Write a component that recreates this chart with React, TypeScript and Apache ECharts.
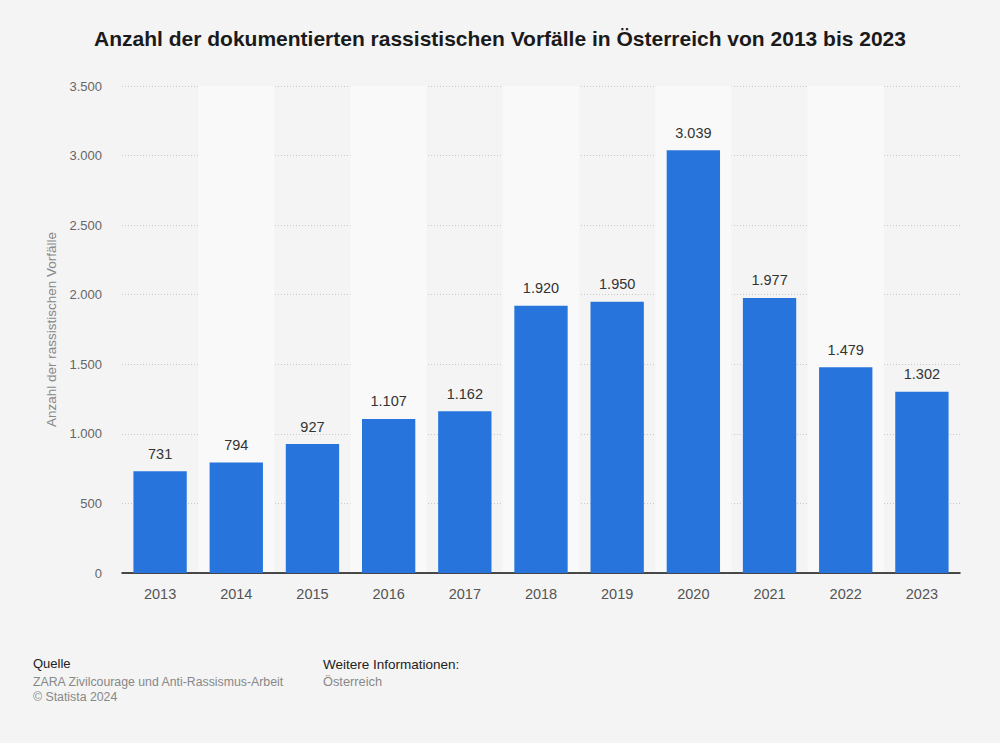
import React, { useEffect, useRef } from "react";
import * as echarts from "echarts";

const years = ["2013", "2014", "2015", "2016", "2017", "2018", "2019", "2020", "2021", "2022", "2023"];
const incidents = [731, 794, 927, 1107, 1162, 1920, 1950, 3039, 1977, 1479, 1302];
const yTicks = [0, 500, 1000, 1500, 2000, 2500, 3000, 3500];

const fmt = (v: number) => String(v).replace(/\B(?=(\d{3})+(?!\d))/g, ".");
const FONT = "'Liberation Sans', Arial, Helvetica, sans-serif";

export default function App() {
  const ref = useRef<HTMLDivElement>(null);
  useEffect(() => {
    document.body.style.margin = "0";
    document.body.style.background = "#f4f4f4";
    const chart = echarts.init(ref.current!, undefined, { renderer: "svg" });
    chart.setOption({
      animation: false,
      backgroundColor: "#f4f4f4",
      textStyle: { fontFamily: FONT },
      title: {
        text: "Anzahl der dokumentierten rassistischen Vorfälle in Österreich von 2013 bis 2023",
        left: "center",
        top: 23,
        textStyle: { fontFamily: FONT, fontSize: 21, fontWeight: "bold", color: "#1a1a1a" },
      },
      grid: { left: 122, right: 40, top: 86, bottom: 170 },
      xAxis: {
        type: "category",
        data: years,
        axisLine: { lineStyle: { color: "#111", width: 1.5 } },
        axisTick: { show: false },
        axisLabel: { color: "#555", fontSize: 14.5, margin: 13, fontFamily: FONT },
        splitArea: { show: true, areaStyle: { color: ["rgba(0,0,0,0)", "#f9f9f9"] } },
      },
      yAxis: {
        type: "value",
        min: yTicks[0],
        max: yTicks[yTicks.length - 1],
        interval: 500,
        name: "Anzahl der rassistischen Vorfälle",
        nameLocation: "middle",
        nameGap: 62,
        nameTextStyle: { color: "#888", fontSize: 13.5, fontFamily: FONT },
        axisLine: { show: false },
        axisTick: { show: false },
        axisLabel: { color: "#666", fontSize: 13, margin: 20, fontFamily: FONT, formatter: (v: number) => fmt(v) },
        splitLine: { lineStyle: { color: "#c8c8c8", type: [1, 2], width: 1 } },
      },
      series: [
        {
          type: "bar",
          data: incidents,
          barWidth: "70%",
          itemStyle: { color: "#2775dc" },
          label: {
            show: true,
            position: "top",
            distance: 10,
            color: "#333",
            fontSize: 14.5,
            fontFamily: FONT,
            formatter: (p: any) => fmt(p.value),
          },
        },
      ],
      graphic: [
        { type: "text", left: 33, top: 657, style: { text: "Quelle", fill: "#222", fontSize: 13, fontFamily: FONT } },
        { type: "text", left: 33, top: 676, style: { text: "ZARA Zivilcourage und Anti-Rassismus-Arbeit", fill: "#888", fontSize: 12.3, fontFamily: FONT } },
        { type: "text", left: 33, top: 691, style: { text: "© Statista 2024", fill: "#888", fontSize: 12.3, fontFamily: FONT } },
        { type: "text", left: 323, top: 657, style: { text: "Weitere Informationen:", fill: "#222", fontSize: 13.5, fontFamily: FONT } },
        { type: "text", left: 323, top: 675, style: { text: "Österreich", fill: "#888", fontSize: 12.8, fontFamily: FONT } },
      ],
    });
    return () => chart.dispose();
  }, []);
  return <div ref={ref} style={{ width: 1000, height: 743 }} />;
}
